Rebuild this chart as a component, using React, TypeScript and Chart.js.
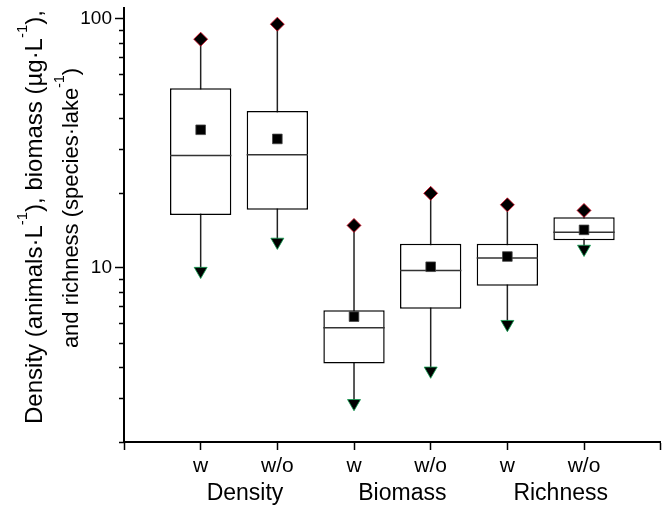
import React, { useEffect, useRef } from 'react';
import { Chart, registerables } from 'chart.js';

Chart.register(...registerables);

const FONT = "'Liberation Sans', Arial, Helvetica, sans-serif";

// ---- data ----
const categories = ['w', 'w/o', 'w', 'w/o', 'w', 'w/o'];
const groups = ['Density', 'Biomass', 'Richness'];
const q1 = [16.3, 17.1, 4.13, 6.85, 8.47, 12.9];
const q3 = [52.5, 42.6, 6.76, 12.5, 12.5, 15.95];
const medians = [28.2, 28.4, 5.75, 9.76, 10.96, 13.9];
const means = [35.8, 32.9, 6.37, 10.1, 11.1, 14.2];
const maxima = [82.7, 95.0, 14.8, 19.9, 17.9, 17.0];
const minima = [9.7, 12.7, 2.86, 3.86, 5.94, 11.9];
const yMajorTicks = [10, 100];
const yMinorTicks = [2, 3, 4, 5, 6, 7, 8, 9, 20, 30, 40, 50, 60, 70, 80, 90];
const titleLines = [
  [
    { text: 'Density (animals\u00b7L' },
    { text: '-1', sup: true },
    { text: '), biomass (\u00b5g\u00b7L' },
    { text: '-1', sup: true },
    { text: '),' },
  ],
  [
    { text: 'and richness (species\u00b7lake' },
    { text: '-1', sup: true },
    { text: ')' },
  ],
];

const BOX_FRACTION = 0.8;

const minorTickPlugin = {
  id: 'minorTicks',
  afterDraw(chart: any) {
    const { ctx, chartArea, scales } = chart;
    const y = scales.y;
    ctx.save();
    ctx.strokeStyle = '#000';
    ctx.lineWidth = 1.5;
    for (const v of yMinorTicks) {
      const py = Math.round(y.getPixelForValue(v)) + 0.5;
      ctx.beginPath();
      ctx.moveTo(chartArea.left - 5, py);
      ctx.lineTo(chartArea.left, py);
      ctx.stroke();
    }
    ctx.restore();
  },
};

const groupLabelPlugin = {
  id: 'groupLabels',
  afterDraw(chart: any) {
    const { ctx, scales } = chart;
    const x = scales.x;
    const shifts = [6, 10, 15];
    ctx.save();
    ctx.fillStyle = '#000';
    ctx.font = `23px ${FONT}`;
    ctx.textAlign = 'center';
    ctx.textBaseline = 'alphabetic';
    groups.forEach((g, i) => {
      const px = x.getPixelForValue(2 * i + 1.5) + shifts[i];
      ctx.fillText(g, px, 500);
    });
    ctx.restore();
  },
};

const yTitlePlugin = {
  id: 'yTitle',
  afterDraw(chart: any) {
    const { ctx } = chart;
    const mainSizes = [24, 22];
    const supSizes = [15, 14];
    const raises = [15, 14];
    const baselines = [42, 78];
    const centers = [217, 208];
    ctx.save();
    ctx.fillStyle = '#000';
    ctx.textBaseline = 'alphabetic';
    ctx.textAlign = 'left';
    titleLines.forEach((segs: any[], li) => {
      let total = 0;
      const widths = segs.map((s) => {
        ctx.font = `${s.sup ? supSizes[li] : mainSizes[li]}px ${FONT}`;
        const w = ctx.measureText(s.text).width;
        total += w;
        return w;
      });
      ctx.save();
      ctx.translate(baselines[li], centers[li]);
      ctx.rotate(-Math.PI / 2);
      let cx = -total / 2;
      segs.forEach((s, si) => {
        ctx.font = `${s.sup ? supSizes[li] : mainSizes[li]}px ${FONT}`;
        ctx.fillText(s.text, cx, s.sup ? -raises[li] : 0);
        cx += widths[si];
      });
      ctx.restore();
    });
    ctx.restore();
  },
};

export default function App() {
  const ref = useRef<HTMLCanvasElement>(null);

  useEffect(() => {
    const canvas = ref.current;
    if (!canvas) return;
    Chart.defaults.font.family = FONT;
    Chart.defaults.color = '#000';

    const positions = categories.map((_, i) => i + 1);
    const half = BOX_FRACTION / 2;
    const whiskerData = positions.flatMap((x, i) => [
      { x, y: minima[i] },
      { x, y: maxima[i] },
      { x, y: null },
    ]);
    const medianData = positions.flatMap((x, i) => [
      { x: x - half, y: medians[i] },
      { x: x + half, y: medians[i] },
      { x, y: null },
    ]);

    const chart = new Chart(canvas, {
      type: 'bar',
      data: {
        datasets: [
          {
            type: 'line',
            data: whiskerData as any,
            borderColor: '#222',
            borderWidth: 1.5,
            pointRadius: 0,
            spanGaps: false,
            order: 5,
          },
          {
            type: 'bar',
            data: positions.map((x, i) => ({ x, y: [q1[i], q3[i]] })) as any,
            backgroundColor: '#fff',
            borderColor: '#000',
            borderWidth: 1.5,
            borderSkipped: false,
            barPercentage: BOX_FRACTION,
            categoryPercentage: 1,
            order: 4,
          },
          {
            type: 'line',
            data: medianData as any,
            borderColor: '#333',
            borderWidth: 1.5,
            pointRadius: 0,
            spanGaps: false,
            order: 3,
          },
          {
            type: 'line',
            data: positions.map((x, i) => ({ x, y: means[i] })) as any,
            showLine: false,
            pointStyle: 'rect',
            pointRadius: 6.8,
            pointBackgroundColor: '#000',
            pointBorderColor: '#444',
            pointBorderWidth: 0.8,
            order: 2,
          },
          {
            type: 'line',
            data: positions.map((x, i) => ({ x, y: maxima[i] })) as any,
            showLine: false,
            pointStyle: 'rectRot',
            pointRadius: 7,
            pointBackgroundColor: '#000',
            pointBorderColor: '#e0102a',
            pointBorderWidth: 0.8,
            order: 1,
          },
          {
            type: 'line',
            data: positions.map((x, i) => ({ x, y: minima[i] })) as any,
            showLine: false,
            pointStyle: 'triangle',
            pointRotation: 180,
            pointRadius: 7.5,
            pointBackgroundColor: '#000',
            pointBorderColor: '#10a050',
            pointBorderWidth: 0.8,
            order: 1,
          },
        ],
      },
      options: {
        responsive: true,
        maintainAspectRatio: false,
        animation: false,
        events: [],
        layout: { padding: { top: 7, right: 4, left: 0, bottom: 0 } },
        plugins: { legend: { display: false }, tooltip: { enabled: false } },
        scales: {
          x: {
            type: 'linear',
            min: 0,
            max: 7,
            offset: false,
            grid: {
              offset: false,
              drawOnChartArea: false,
              drawTicks: true,
              tickLength: 8,
              tickWidth: 1.5,
              tickColor: '#000',
            },
            border: { display: true, color: '#000', width: 2 },
            ticks: {
              stepSize: 1,
              autoSkip: false,
              maxRotation: 0,
              padding: 4,
              color: '#000',
              font: { size: 21, family: FONT },
              callback: (v: any) => categories[Number(v) - 1] ?? '',
            },
            afterFit: (s: any) => {
              s.height = 63;
              s.paddingLeft = 0;
              s.paddingRight = 0;
            },
          },
          y: {
            type: 'logarithmic',
            min: 2,
            max: 110,
            grid: {
              drawOnChartArea: false,
              drawTicks: true,
              tickLength: 9,
              tickWidth: 1.5,
              tickColor: '#000',
            },
            border: { display: true, color: '#000', width: 2 },
            afterBuildTicks: (s: any) => {
              s.ticks = yMajorTicks.map((v) => ({ value: v }));
            },
            ticks: {
              padding: 3,
              color: '#000',
              font: { size: 19, family: FONT },
              callback: (v: any) => String(v),
            },
            afterFit: (s: any) => {
              s.width = 124;
              s.paddingTop = 0;
              s.paddingBottom = 0;
            },
          },
        },
      },
      plugins: [minorTickPlugin, groupLabelPlugin, yTitlePlugin],
    } as any);

    return () => chart.destroy();
  }, []);

  return (
    <div style={{ position: 'fixed', left: 0, top: 0, width: 669, height: 505, background: '#fff' }}>
      <canvas ref={ref} />
    </div>
  );
}
